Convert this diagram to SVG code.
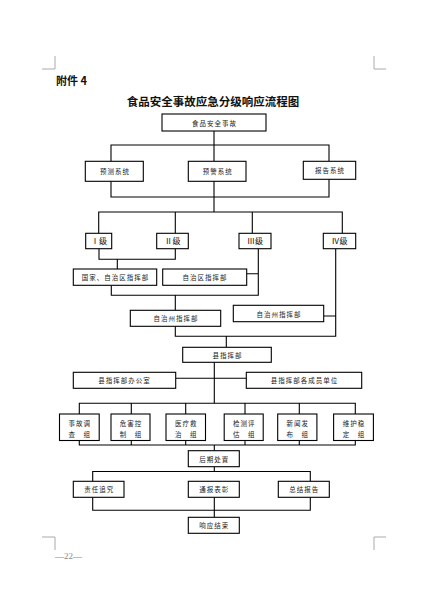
<svg xmlns="http://www.w3.org/2000/svg" width="427" height="597" viewBox="0 0 427 597">
<style>
.bx{fill:#fff;stroke:#000;stroke-width:1.1}
.t{font-family:"Noto Sans CJK SC","Liberation Sans",sans-serif;font-size:6.5px;letter-spacing:1px;fill:#222;text-anchor:middle;dominant-baseline:central}
.lv{font-family:"Liberation Serif","Noto Sans CJK SC",serif;font-size:8px;fill:#111;text-anchor:middle;dominant-baseline:central}
.cn{fill:none;stroke:#000;stroke-width:1.1}
.cm{fill:none;stroke:#aaa;stroke-width:1}
</style>
<rect width="427" height="597" fill="#fff"/>
<g id="page-marks">
<path class="cm" d="M55 56V69H42M374 56V69H386M55 550V537H42M374 550V537H386"/>
<text x="55" y="559" font-family="Liberation Serif,serif" font-size="9" fill="#888">—22—</text>
<text x="56" y="85" font-family="Noto Sans CJK SC,sans-serif" font-size="11" font-weight="bold" fill="#111">附件 4</text>
<text x="213" y="101" font-family="Noto Sans CJK SC,sans-serif" font-size="11.5" font-weight="bold" fill="#111" text-anchor="middle" dominant-baseline="central">食品安全事故应急分级响应流程图</text>
</g>
<g id="connectors">
<path class="cn" d="M214 131V161M111 161V145H329V161"/>
<path class="cn" d="M111 181V197H329V179M214 181V212"/>
<path class="cn" d="M98.7 233V212H342.3V233M175.3 212V233M252.3 212V233"/>
<path class="cn" d="M99 249V259.3H175.3V249M117.3 259.3V269"/>
<path class="cn" d="M258.3 249V295.3H111.3V285.3M246.7 273.7H258.3M175.3 295.3V310.3"/>
<path class="cn" d="M335.7 249V336.3H175.3V326.3M323.7 316H335.7M226.3 336.3V347.3"/>
<path class="cn" d="M214.3 362.3V403.3M175.7 378.3H246.3"/>
<path class="cn" d="M79.3 414V403.3H355.3V414M131.3 403.3V414M185.7 403.3V414M245 403.3V414M299.3 403.3V414"/>
<path class="cn" d="M79.3 440.5V445H355.3V440.5M131.3 440.5V445M185.7 440.5V445M245 440.5V445M299.3 440.5V445M214.3 445V450.7"/>
<path class="cn" d="M214.3 466.7V471.5M92.7 481.3V471.5H310.3V481.3"/>
<path class="cn" d="M92.7 497.3V510.3H310.3V497.3M214.3 497.3V517.3"/>
</g>
<g id="n-incident"><rect class="bx" x="162" y="114" width="104" height="17"/><text class="t" x="214.5" y="122.5">食品安全事故</text></g>
<g id="n-forecast"><rect class="bx" x="85.3" y="161.3" width="58" height="20"/><text class="t" x="115" y="171.3">预测系统</text></g>
<g id="n-warning"><rect class="bx" x="188.3" y="161.3" width="57.7" height="20"/><text class="t" x="217.7" y="171.3">预警系统</text></g>
<g id="n-report"><rect class="bx" x="303.3" y="161.3" width="52.4" height="18"/><text class="t" x="330" y="170.3">报告系统</text></g>
<g id="n-l1"><rect class="bx" x="85.7" y="233.3" width="26" height="15.4"/><text class="lv" x="99" y="241">Ⅰ级</text></g>
<g id="n-l2"><rect class="bx" x="156.7" y="233.3" width="31.6" height="15.4"/><text class="lv" x="172.5" y="241">Ⅱ级</text></g>
<g id="n-l3"><rect class="bx" x="239" y="233.3" width="32" height="15.4"/><text class="lv" x="255" y="241">Ⅲ级</text></g>
<g id="n-l4"><rect class="bx" x="323.3" y="233.3" width="32.4" height="15.4"/><text class="lv" x="339.5" y="241">Ⅳ级</text></g>
<g id="n-national"><rect class="bx" x="73.3" y="269" width="83.4" height="16.3"/><text class="t" x="115.5" y="277.2">国家、自治区指挥部</text></g>
<g id="n-region"><rect class="bx" x="162.7" y="269" width="84" height="16.3"/><text class="t" x="205" y="277.2">自治区指挥部</text></g>
<g id="n-pref1"><rect class="bx" x="130.3" y="310.3" width="90.4" height="16"/><text class="t" x="176" y="318.3">自治州指挥部</text></g>
<g id="n-pref2"><rect class="bx" x="233.3" y="305.3" width="90.4" height="16.4"/><text class="t" x="279" y="313.5">自治州指挥部</text></g>
<g id="n-county"><rect class="bx" x="182.7" y="347.3" width="88.6" height="15"/><text class="t" x="227.5" y="354.8">县指挥部</text></g>
<g id="n-office"><rect class="bx" x="73.3" y="372.3" width="102.4" height="16"/><text class="t" x="124.5" y="380.3">县指挥部办公室</text></g>
<g id="n-members"><rect class="bx" x="246.3" y="372.3" width="115.4" height="16"/><text class="t" x="304.5" y="380.3">县指挥部各成员单位</text></g>
<g id="n-g1"><rect class="bx" x="59.5" y="414" width="39.7" height="26.5"/><text class="t" x="79.8" y="423.3">事故调</text><text class="t" x="79.8" y="434">查　组</text></g>
<g id="n-g2"><rect class="bx" x="111" y="414" width="39" height="26.5"/><text class="t" x="131" y="423.3">危害控</text><text class="t" x="131" y="434">制　组</text></g>
<g id="n-g3"><rect class="bx" x="166" y="414" width="39.5" height="26.5"/><text class="t" x="186.2" y="423.3">医疗救</text><text class="t" x="186.2" y="434">治　组</text></g>
<g id="n-g4"><rect class="bx" x="224.2" y="414" width="39" height="26.5"/><text class="t" x="244.2" y="423.3">检测评</text><text class="t" x="244.2" y="434">估　组</text></g>
<g id="n-g5"><rect class="bx" x="277.7" y="414" width="39.2" height="26.5"/><text class="t" x="297.8" y="423.3">新闻发</text><text class="t" x="297.8" y="434">布　组</text></g>
<g id="n-g6"><rect class="bx" x="333.6" y="414" width="39.8" height="26.5"/><text class="t" x="354" y="423.3">维护稳</text><text class="t" x="354" y="434">定　组</text></g>
<g id="n-after"><rect class="bx" x="188.3" y="450.7" width="51" height="16"/><text class="t" x="214.3" y="458.7">后期处置</text></g>
<g id="n-account"><rect class="bx" x="73.3" y="481.3" width="50.7" height="16"/><text class="t" x="99.2" y="489.3">责任追究</text></g>
<g id="n-commend"><rect class="bx" x="188.3" y="481.3" width="51" height="16"/><text class="t" x="214.3" y="489.3">通报表彰</text></g>
<g id="n-summary"><rect class="bx" x="278.3" y="481.3" width="51" height="16"/><text class="t" x="304.3" y="489.3">总结报告</text></g>
<g id="n-end"><rect class="bx" x="188.3" y="517.3" width="51" height="16"/><text class="t" x="214.3" y="525.3">响应结束</text></g>
</svg>
